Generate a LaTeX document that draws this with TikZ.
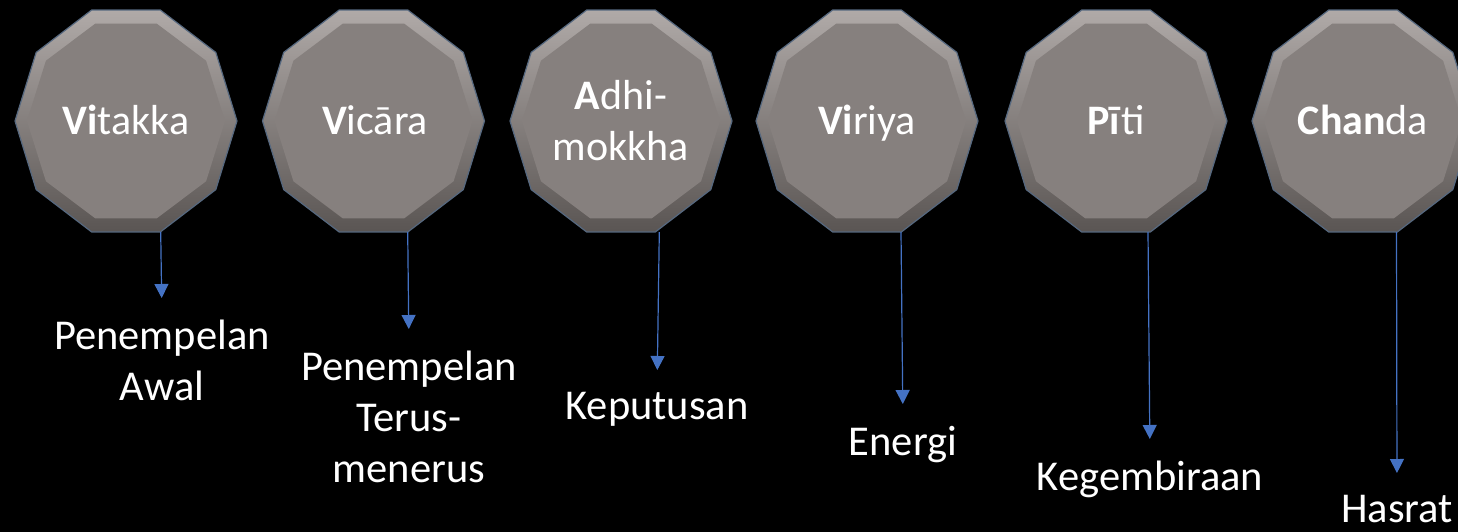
\documentclass[tikz,border=0pt]{standalone}
\usepackage{fontspec}
\setmainfont{Carlito}
\usetikzlibrary{arrows.meta}
\definecolor{arrowblue}{HTML}{4472C4}
\definecolor{face}{HTML}{86807E}
\definecolor{bevtop}{HTML}{B0AAA8}
\definecolor{bevbot}{HTML}{5A5553}
\definecolor{rim}{HTML}{56687F}
\newcommand\decashape[1]{%
  \path[draw=rim, line width=1.2pt, top color=bevtop, bottom color=bevbot]
    plot[samples at={0,36,...,324}] ({#1+111*cos(\x)},{121-116.7*sin(\x)}) -- cycle;
  \fill[face]
    plot[samples at={0,36,...,324}] ({#1+99*cos(\x)},{121-102.5*sin(\x)}) -- cycle;
}
\begin{document}
\begin{tikzpicture}[x=1pt,y=-1pt,
  decatext/.style={text=white, font=\fontsize{42}{51}\selectfont, align=center, inner sep=0pt},
  lbl/.style={text=white, font=\fontsize{42.5}{51}\selectfont, align=center, inner sep=0pt, anchor=north},
  conn/.style={draw=arrowblue, line width=1.2pt, -{Triangle[width=14pt,length=14pt]}, shorten >=22pt}]
\fill[black] (0,0) rectangle (1458,532);
\useasboundingbox (0,0) rectangle (1458,532);
% decagons
\decashape{126}
\decashape{373.5}
\decashape{621}
\decashape{867}
\decashape{1116}
\decashape{1363}
% decagon texts
\node[decatext, anchor=base] (vitakka) at (126,135) {\textbf{Vi}takka};
\node[decatext, anchor=base] (vicara) at (375,135) {\textbf{V}icāra};
\node[decatext] (adhimokkha) at (621,121) {\textbf{A}dhi-\\mokkha};
\node[decatext, anchor=base] (viriya) at (867,135) {\textbf{Vi}riya};
\node[decatext, anchor=base] (piti) at (1116,135) {\textbf{Pī}ti};
\node[decatext, anchor=base] (chanda) at (1363,135) {\textbf{Chan}da};
% connector start points on the decagons
\coordinate (s1) at (160.7,232);
\coordinate (s2) at (407.7,232);
\coordinate (s3) at (659.3,232);
\coordinate (s4) at (901,232);
\coordinate (s5) at (1148,232);
\coordinate (s6) at (1396.5,232);
% labels
\node[lbl] (awal) at (162,320) {Penempelan\\Awal};
\node[lbl] (terus) at (409,351) {Penempelan\\Terus-\\menerus};
\node[lbl] (keputusan) at (657,392) {Keputusan};
\node[lbl] (energi) at (903,426) {Energi};
\node[lbl] (kegembiraan) at (1150,461) {Kegembiraan};
\node[lbl] (hasrat) at (1397,495) {Hasrat};
% connectors
\draw[conn] (s1) -- (awal.north);
\draw[conn] (s2) -- (terus.north);
\draw[conn] (s3) -- (keputusan.north);
\draw[conn] (s4) -- (energi.north);
\draw[conn] (s5) -- (kegembiraan.north);
\draw[conn] (s6) -- (hasrat.north);
\end{tikzpicture}
\end{document}
